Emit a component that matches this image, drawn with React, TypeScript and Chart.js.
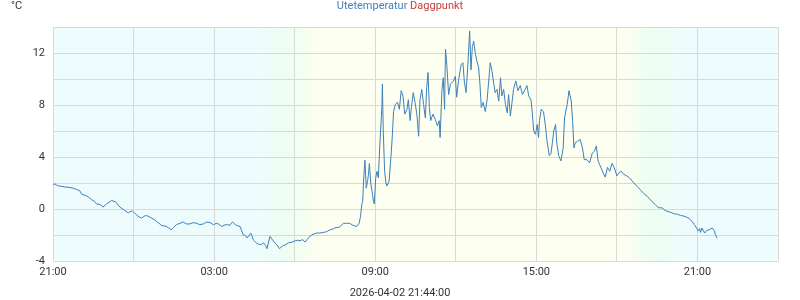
import React, { useEffect, useRef } from 'react';
import { Chart, registerables } from 'chart.js';

Chart.register(...registerables);

// minutes since 2026-04-01 21:00
const minutesSinceStart: number[] = [
  0, 3, 10, 25, 38, 45, 53, 60, 64, 75, 80, 86, 92, 98, 105, 112, 120, 131, 140, 149,
  158, 168, 177, 186, 192, 198, 204, 209, 215, 220, 226, 231, 237, 242, 253, 258, 264, 270, 276, 284,
  291, 298, 306, 313, 321, 328, 336, 343, 351, 358, 366, 372, 377, 382, 388, 395, 401, 406, 410, 418,
  425, 430, 434, 442, 448, 454, 459, 465, 470, 475, 478, 485, 489, 493, 500, 506, 511, 515, 520, 526,
  534, 541, 547, 552, 558, 563, 568, 574, 581, 589, 596, 604, 611, 619, 625, 630, 640, 649, 656, 663,
  670, 678, 684, 687, 690, 692, 694, 697, 700, 703, 705, 707, 710, 714, 716, 718, 721, 724, 727, 730,
  732, 735, 736, 738, 741, 744, 746, 751, 755, 758, 761, 765, 770, 774, 778, 782, 786, 791, 794, 798,
  801, 805, 809, 813, 817, 820, 824, 828, 832, 835, 838, 841, 844, 849, 854, 859, 863, 865, 869, 872,
  875, 877, 880, 884, 888, 895, 899, 902, 906, 912, 916, 919, 923, 927, 931, 934, 937, 940, 944, 947,
  951, 954, 957, 961, 966, 970, 973, 977, 981, 985, 988, 992, 996, 1000, 1003, 1007, 1011, 1015, 1018, 1022,
  1026, 1029, 1034, 1039, 1044, 1049, 1055, 1059, 1063, 1068, 1071, 1074, 1078, 1082, 1085, 1087, 1091, 1096, 1100, 1104,
  1109, 1113, 1119, 1123, 1126, 1130, 1135, 1140, 1143, 1149, 1153, 1158, 1161, 1164, 1167, 1172, 1178, 1183, 1187, 1193,
  1199, 1205, 1210, 1214, 1218, 1223, 1229, 1234, 1239, 1244, 1249, 1254, 1260, 1265, 1270, 1275, 1282, 1288, 1298, 1305,
  1312, 1320, 1328, 1335, 1342, 1348, 1354, 1360, 1365, 1372, 1380, 1387, 1395, 1402, 1410, 1417, 1422, 1428, 1433, 1438,
  1442, 1445, 1447, 1450, 1456, 1461, 1466, 1473, 1478, 1480, 1484,
];

const outdoorTemp: number[] = [
  1.8, 1.95, 1.8, 1.7, 1.65, 1.6, 1.5, 1.4, 1.15, 1.0, 0.9, 0.72, 0.6, 0.38, 0.35, 0.15, 0.4, 0.65, 0.55, 0.15,
  -0.05, -0.3, -0.13, -0.44, -0.6, -0.7, -0.55, -0.5, -0.6, -0.7, -0.8, -0.95, -1.1, -1.26, -1.33, -1.45, -1.6, -1.4, -1.2, -1.1,
  -1.0, -1.15, -1.15, -1.05, -1.1, -1.2, -1.15, -1.0, -1.05, -1.2, -1.1, -1.2, -1.35, -1.25, -1.2, -1.25, -1.0, -1.15, -1.26, -1.35,
  -1.98, -2.05, -2.23, -1.85, -2.4, -2.6, -2.7, -2.75, -2.6, -2.8, -3.05, -2.1, -2.3, -2.5, -2.75, -3.05, -2.9, -2.8, -2.75, -2.6,
  -2.55, -2.45, -2.4, -2.45, -2.35, -2.55, -2.35, -2.1, -1.95, -1.85, -1.85, -1.8, -1.75, -1.6, -1.55, -1.45, -1.4, -1.1, -1.1, -1.1,
  -1.25, -1.35, -1.1, -0.6, 0.36, 0.6, 2.15, 3.75, 1.6, 2.2, 2.67, 3.5, 2.0, 1.1, 0.6, 0.4, 2.36, 2.9, 2.4, 4.7,
  6.0, 7.9, 9.6, 6.0, 2.9, 2.0, 1.77, 2.15, 3.95, 5.5, 7.5, 8.05, 8.2, 7.67, 9.1, 8.7, 7.3, 7.67, 8.4, 6.8,
  7.9, 8.95, 8.2, 7.3, 5.6, 8.4, 9.2, 8.05, 7.0, 9.33, 10.5, 7.8, 6.8, 7.3, 6.9, 6.4, 6.8, 5.5, 9.1, 10.1,
  7.67, 12.3, 11.1, 8.8, 9.6, 9.85, 10.2, 8.6, 9.85, 11.1, 11.25, 9.85, 8.95, 11.1, 13.7, 10.7, 12.5, 12.9, 11.9, 11.4,
  10.9, 9.6, 7.8, 8.2, 7.5, 8.4, 9.6, 11.25, 10.6, 9.6, 8.95, 9.2, 8.3, 10.1, 8.7, 9.2, 8.05, 7.4, 8.8, 7.15,
  8.3, 9.2, 9.85, 9.1, 9.5, 8.8, 9.2, 9.5, 8.7, 8.4, 7.4, 6.0, 5.75, 6.5, 5.5, 6.8, 7.67, 7.5, 6.5, 5.2,
  4.1, 4.3, 6.0, 6.5, 5.0, 4.1, 3.7, 4.7, 7.0, 8.05, 9.1, 8.3, 6.8, 4.7, 5.1, 5.2, 5.35, 4.7, 3.8, 3.8,
  3.55, 4.3, 4.45, 4.85, 3.7, 3.3, 2.8, 2.45, 3.2, 2.9, 3.5, 3.2, 2.55, 2.8, 2.9, 2.67, 2.55, 2.4, 2.0, 1.75,
  1.48, 1.2, 0.97, 0.7, 0.46, 0.25, 0.08, 0.1, -0.03, -0.18, -0.25, -0.36, -0.4, -0.49, -0.55, -0.64, -0.75, -0.95, -1.2, -1.46,
  -1.7, -1.5, -1.8, -1.46, -1.85, -1.65, -1.6, -1.46, -1.7, -1.98, -2.23,
];

const dewPoint: number[] = [];

const seriesNames: string[] = ['Utetemperatur', 'Daggpunkt'];
const startHour = 21;
const axisRangeMinutes: number[] = [0, 1620];
const tempRange: number[] = [-4, 14];
const unitLabel = '°C';
const updatedAt = '2026-04-02 21:44:00';

// twilight transitions (minutes since start): night -> dawn -> day, day -> dusk -> night
const twilightMinutes: number[] = [452, 530, 597, 1272, 1330, 1406];

const FONT = 'Roboto, "Noto Sans", sans-serif';
const TEMP_COLOR = '#3d80bd';
const DEW_COLOR = '#c0403f';
const TEXT_COLOR = '#333333';

function fmtTime(v: number): string {
  const m = ((startHour * 60 + v) % 1440 + 1440) % 1440;
  const h = Math.floor(m / 60);
  const mm = m % 60;
  return `${String(h).padStart(2, '0')}:${String(mm).padStart(2, '0')}`;
}

const backgroundPlugin = {
  id: 'dayNightBg',
  beforeDraw(chart: any) {
    const { ctx, chartArea, scales } = chart;
    if (!chartArea) return;
    const { left, right, top, bottom } = chartArea;
    const xs = scales.x;
    const g = ctx.createLinearGradient(left, 0, right, 0);
    const night = '#effcfd';
    const twi = '#eefef0';
    const day = '#fdfff0';
    const cols = [night, twi, day, day, twi, night];
    g.addColorStop(0, night);
    twilightMinutes.forEach((t, i) => {
      const p = (xs.getPixelForValue(t) - left) / (right - left);
      g.addColorStop(Math.min(1, Math.max(0, p)), cols[i]);
    });
    g.addColorStop(1, night);
    ctx.save();
    ctx.fillStyle = g;
    ctx.fillRect(left, top, right - left, bottom - top);
    ctx.restore();
  },
};

const textPlugin = {
  id: 'extraTexts',
  afterDraw(chart: any) {
    const { ctx, width } = chart;
    ctx.save();
    ctx.font = `11px ${FONT}`;
    ctx.textBaseline = 'middle';
    // unit
    ctx.fillStyle = TEXT_COLOR;
    ctx.textAlign = 'left';
    ctx.fillText(unitLabel, 11, 6);
    // legend
    const t1 = seriesNames[0] + ' ';
    const t2 = seriesNames[1];
    const w1 = ctx.measureText(t1).width;
    const w2 = ctx.measureText(t2).width;
    const x0 = width / 2 - (w1 + w2) / 2;
    ctx.fillStyle = TEMP_COLOR;
    ctx.fillText(t1, x0, 6);
    ctx.fillStyle = DEW_COLOR;
    ctx.fillText(t2, x0 + w1, 6);
    // timestamp
    ctx.fillStyle = TEXT_COLOR;
    ctx.textAlign = 'center';
    ctx.fillText(updatedAt, width / 2, 293);
    ctx.restore();
  },
};

export default function App() {
  const ref = useRef<HTMLCanvasElement | null>(null);

  useEffect(() => {
    document.body.style.margin = '0';
    if (!ref.current) return;
    const chart = new Chart(ref.current, {
      type: 'line',
      data: {
        datasets: [
          {
            label: seriesNames[0],
            data: minutesSinceStart.map((m, i) => ({ x: m, y: outdoorTemp[i] })),
            borderColor: TEMP_COLOR,
            backgroundColor: TEMP_COLOR,
            borderWidth: 1,
            pointRadius: 0,
            tension: 0,
            fill: false,
          },
          {
            label: seriesNames[1],
            data: dewPoint,
            borderColor: DEW_COLOR,
            backgroundColor: DEW_COLOR,
            borderWidth: 1,
            pointRadius: 0,
          },
        ],
      },
      options: {
        animation: false,
        responsive: false,
        devicePixelRatio: 1,
        layout: { padding: { left: 0, right: 22, top: 27, bottom: 17 } },
        plugins: {
          legend: { display: false },
          title: { display: false },
          tooltip: { enabled: false },
        },
        scales: {
          x: {
            type: 'linear',
            min: axisRangeMinutes[0],
            max: axisRangeMinutes[1],
            afterFit: (s: any) => {
              s.height = 22;
            },
            grid: { color: '#d9d9d9', lineWidth: 1, drawTicks: false },
            border: { color: '#d9d9d9' },
            ticks: {
              stepSize: 180,
              autoSkip: false,
              maxRotation: 0,
              padding: 5,
              color: TEXT_COLOR,
              font: { family: FONT, size: 11 },
              callback: (v: any) => (Number(v) % 360 === 0 ? fmtTime(Number(v)) : ''),
            },
          },
          y: {
            min: tempRange[0],
            max: tempRange[1],
            afterFit: (s: any) => {
              s.width = 53;
            },
            grid: { color: '#d9d9d9', lineWidth: 1, drawTicks: false },
            border: { color: '#d9d9d9' },
            ticks: {
              stepSize: 2,
              padding: 8,
              color: TEXT_COLOR,
              font: { family: FONT, size: 11 },
              callback: (v: any) => (Number(v) % 4 === 0 ? String(v) : ''),
            },
          },
        },
      },
      plugins: [backgroundPlugin, textPlugin],
    });
    return () => chart.destroy();
  }, []);

  return (
    <div style={{ width: 800, height: 300 }}>
      <canvas ref={ref} width={800} height={300} style={{ display: 'block' }} />
    </div>
  );
}
